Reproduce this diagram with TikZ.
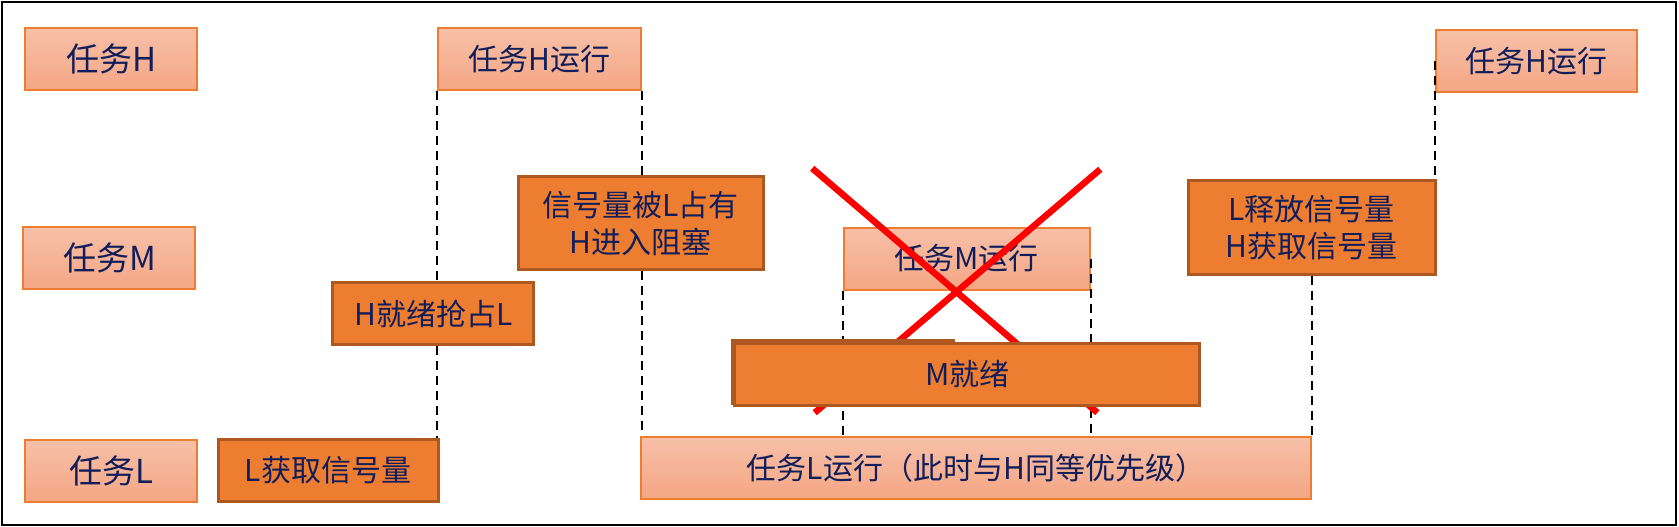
\documentclass[tikz,border=0pt]{standalone}
\usepackage{fontspec}
\newfontfamily\cjk{Noto Sans CJK SC}
\definecolor{navy}{RGB}{18,30,90}
\definecolor{ltop}{RGB}{247,192,168}
\definecolor{lbot}{RGB}{244,166,132}
\definecolor{lborder}{RGB}{237,125,49}
\definecolor{dfill}{RGB}{237,125,49}
\definecolor{dborder}{RGB}{172,88,32}
\definecolor{xred}{RGB}{255,0,0}
\begin{document}
\begin{tikzpicture}[x=1pt,y=-1pt,
  lbox/.style={draw=lborder, line width=2pt, top color=ltop, bottom color=lbot, text=navy,
    inner sep=0pt, align=center, font=\cjk\fontsize{30}{37}\selectfont},
  headbox/.style={lbox, minimum width=172pt, minimum height=62pt, font=\cjk\fontsize{33}{37}\selectfont},
  dbox/.style={draw=dborder, line width=3pt, fill=dfill, text=navy,
    inner sep=0pt, align=center, font=\cjk\fontsize{30}{37}\selectfont},
  dashline/.style={black, line width=2pt, dash pattern=on 9pt off 6pt},
  crossline/.style={xred, line width=6.5pt}]
\useasboundingbox (0,0) rectangle (1679,527);
\draw[black, line width=2.5pt] (2,2) rectangle (1676,525);
% light boxes
\node[headbox] (hL) at (111.4,59.4) {任务H};
\node[headbox] (mL) at (109.4,258.4) {任务M};
\node[headbox] (lL) at (111.4,470.5) {任务L};
\node[lbox, minimum width=203pt, minimum height=62pt] (hrun1) at (539.5,59.4) {任务H运行};
\node[lbox, minimum width=201pt, minimum height=62pt] (hrun2) at (1536.3,61.3) {任务H运行};
\node[lbox, minimum width=670pt, minimum height=62pt] (lrun) at (976,467.9) {任务L运行（此时与H同等优先级）};
\node[lbox, minimum width=246pt, minimum height=62pt] (mrun) at (966.5,258.5) {任务M运行};
\path (328,470) coordinate (lgetc) (433.3,313.9) coordinate (hreadyc)
      (640.8,223.4) coordinate (semc) (1311.5,227.2) coordinate (lrelc);
\node[dbox, minimum width=220pt, minimum height=62pt] (lget) at (lgetc) {L获取信号量};
% dashed connectors
\draw[dashline] (hrun1.south west) -- (hrun1.south west |- lget.north);
\draw[dashline] (hrun1.south east) -- (hrun1.south east |- lrun.north);
\draw[dashline] (mrun.south west) -- (mrun.south west |- lrun.north);
\draw[dashline] (mrun.east) -- (mrun.east |- lrun.north);
\node[dbox, minimum width=247pt, minimum height=94pt] (lrel) at (lrelc) {L释放信号量\\H获取信号量};
\draw[dashline] (lrun.north east |- lrel.south) -- (lrun.north east);
\draw[dashline] (hrun2.west) -- (hrun2.west |- lrel.north);
\node[dbox, minimum width=201pt, minimum height=62pt] (hready) at (hreadyc) {H就绪抢占L};
\node[dbox, minimum width=245pt, minimum height=93pt] (sem) at (semc) {信号量被L占有\\H进入阻塞};
% red cross
\coordinate (x1a) at (812.2,168.3);
\coordinate (x1b) at (1097.4,412.7);
\coordinate (x2a) at (1100.3,169.3);
\coordinate (x2b) at (814.7,412.7);
\draw[crossline] (x1a) -- (x1b);
\draw[crossline] (x2a) -- (x2b);
% M ready boxes
\node[dbox, minimum width=221pt, minimum height=63pt] (mreadyb) at (843.1,372.2) {};
\node[dbox, minimum width=465pt, minimum height=62pt] (mready) at (967.3,374.5) {M就绪};
\end{tikzpicture}
\end{document}
